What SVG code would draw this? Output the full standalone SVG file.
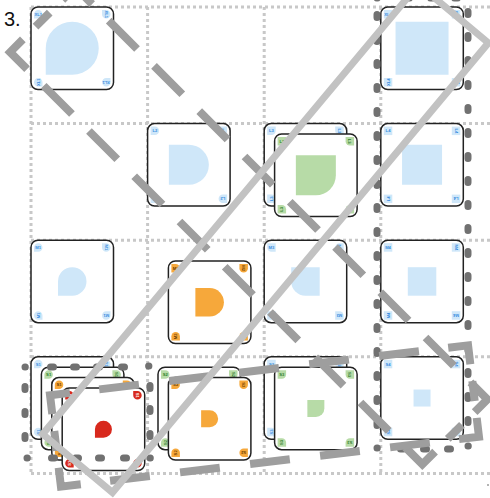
<svg xmlns="http://www.w3.org/2000/svg" width="490" height="498" viewBox="0 0 490 498">
<style>
.grid{fill:none;stroke:#c8c8c8;stroke-width:3;stroke-dasharray:3 3}
.card{fill:#fff;stroke:#222;stroke-width:1.5}
.b{fill:#cfe7f9}.g{fill:#b7dba7}.o{fill:#f6a83b}.r{fill:#d8291d}
.lbl{font-family:"Liberation Sans",Arial,sans-serif;font-size:4.2px;font-weight:bold;text-anchor:middle}
.tb{fill:#3a8de0}.tg{fill:#2e7d2a}.to{fill:#6a3b00}.tr{fill:#fff}
.dots{fill:none;stroke:#717171;stroke-width:7;stroke-linecap:round}
.dash{fill:none;stroke:#9e9e9e;stroke-width:8;stroke-linecap:butt;stroke-linejoin:miter}
.light{fill:none;stroke:#c2c2c2;stroke-width:7;stroke-linejoin:miter}
.title{font-family:"Liberation Sans",Arial,sans-serif;font-size:20px;fill:#111}
</style>
<defs>
<path id="tear" d="M0 .5A.5 .5 0 0 1 .5 0A.5 .5 0 0 1 1 .5A.5 .5 0 0 1 .5 1H0Z"/>
<path id="dee" d="M0 0H.5A.5 .5 0 0 1 .5 1H0Z"/>
<path id="qbr" d="M0 0H1V.5A.5 .5 0 0 1 .5 1H0Z"/>
<path id="qbl" d="M0 0H1V1H.5A.5 .5 0 0 1 0 .5Z"/>
<path id="sq" d="M0 0H1V1H0Z"/>
</defs>

<text class="title" x="4" y="26">3.</text>
<circle cx="488" cy="485" r="0.8" fill="#555"/>

<g id="grid">
<path class="grid" d="M31 7V473.4M147.6 7V473.4M264.2 7V473.4M380.8 7V473.4M31 7H490M31 123.6H490M31 240.2H490M31 356.8H490M31 473.4H490"/>
</g>

<g id="card-r0c0" transform="translate(31,7)">
<rect class="card" width="82.5" height="82.5" rx="7"/>
<use href="#tear" class="b" transform="translate(14.75,14.75) scale(53)"/>
<g transform="translate(3,3)"><use href="#tear" class="b" transform="scale(8.5)"/><text class="lbl tb" x="4.25" y="5.8">XL1</text></g>
<g transform="translate(79.5,3) rotate(90)"><use href="#tear" class="b" transform="scale(8.5)"/><text class="lbl tb" x="4.25" y="5.8">XL1</text></g>
<g transform="translate(79.5,79.5) rotate(180)"><use href="#tear" class="b" transform="scale(8.5)"/><text class="lbl tb" x="4.25" y="5.8">XL1</text></g>
<g transform="translate(3,79.5) rotate(270)"><use href="#tear" class="b" transform="scale(8.5)"/><text class="lbl tb" x="4.25" y="5.8">XL1</text></g>
</g>

<g id="card-r0c3" transform="translate(380.8,7)">
<rect class="card" width="82.5" height="82.5" rx="7"/>
<use href="#sq" class="b" transform="translate(14.75,14.75) scale(53)"/>
<g transform="translate(3,3)"><use href="#sq" class="b" transform="scale(8.5)"/><text class="lbl tb" x="4.25" y="5.8">XL4</text></g>
<g transform="translate(79.5,3) rotate(90)"><use href="#sq" class="b" transform="scale(8.5)"/><text class="lbl tb" x="4.25" y="5.8">XL4</text></g>
<g transform="translate(79.5,79.5) rotate(180)"><use href="#sq" class="b" transform="scale(8.5)"/><text class="lbl tb" x="4.25" y="5.8">XL4</text></g>
<g transform="translate(3,79.5) rotate(270)"><use href="#sq" class="b" transform="scale(8.5)"/><text class="lbl tb" x="4.25" y="5.8">XL4</text></g>
</g>

<g id="card-r1c1" transform="translate(147.6,123.6)">
<rect class="card" width="82.5" height="82.5" rx="7"/>
<use href="#dee" class="b" transform="translate(21.25,21.25) scale(40)"/>
<g transform="translate(3,3)"><use href="#dee" class="b" transform="scale(8.5)"/><text class="lbl tb" x="4.25" y="5.8">L2</text></g>
<g transform="translate(79.5,3) rotate(90)"><use href="#dee" class="b" transform="scale(8.5)"/><text class="lbl tb" x="4.25" y="5.8">L2</text></g>
<g transform="translate(79.5,79.5) rotate(180)"><use href="#dee" class="b" transform="scale(8.5)"/><text class="lbl tb" x="4.25" y="5.8">L2</text></g>
<g transform="translate(3,79.5) rotate(270)"><use href="#dee" class="b" transform="scale(8.5)"/><text class="lbl tb" x="4.25" y="5.8">L2</text></g>
</g>

<g id="card-r1c2-blue" transform="translate(264.2,123.6)">
<rect class="card" width="82.5" height="82.5" rx="7"/>
<use href="#qbr" class="b" transform="translate(21.25,21.25) scale(40)"/>
<g transform="translate(3,3)"><use href="#qbr" class="b" transform="scale(8.5)"/><text class="lbl tb" x="4.25" y="5.8">L3</text></g>
<g transform="translate(79.5,3) rotate(90)"><use href="#qbr" class="b" transform="scale(8.5)"/><text class="lbl tb" x="4.25" y="5.8">L3</text></g>
<g transform="translate(79.5,79.5) rotate(180)"><use href="#qbr" class="b" transform="scale(8.5)"/><text class="lbl tb" x="4.25" y="5.8">L3</text></g>
<g transform="translate(3,79.5) rotate(270)"><use href="#qbr" class="b" transform="scale(8.5)"/><text class="lbl tb" x="4.25" y="5.8">L3</text></g>
</g>
<g id="card-r1c2-green" transform="translate(274.6,134)">
<rect class="card" width="82.5" height="82.5" rx="7"/>
<use href="#qbr" class="g" transform="translate(21.25,21.25) scale(40)"/>
<g transform="translate(3,3)"><use href="#qbr" class="g" transform="scale(8.5)"/><text class="lbl tg" x="4.25" y="5.8">L3</text></g>
<g transform="translate(79.5,3) rotate(90)"><use href="#qbr" class="g" transform="scale(8.5)"/><text class="lbl tg" x="4.25" y="5.8">L3</text></g>
<g transform="translate(79.5,79.5) rotate(180)"><use href="#qbr" class="g" transform="scale(8.5)"/><text class="lbl tg" x="4.25" y="5.8">L3</text></g>
<g transform="translate(3,79.5) rotate(270)"><use href="#qbr" class="g" transform="scale(8.5)"/><text class="lbl tg" x="4.25" y="5.8">L3</text></g>
</g>

<g id="card-r1c3" transform="translate(380.8,123.6)">
<rect class="card" width="82.5" height="82.5" rx="7"/>
<use href="#sq" class="b" transform="translate(21.25,21.25) scale(40)"/>
<g transform="translate(3,3)"><use href="#sq" class="b" transform="scale(8.5)"/><text class="lbl tb" x="4.25" y="5.8">L4</text></g>
<g transform="translate(79.5,3) rotate(90)"><use href="#sq" class="b" transform="scale(8.5)"/><text class="lbl tb" x="4.25" y="5.8">L4</text></g>
<g transform="translate(79.5,79.5) rotate(180)"><use href="#sq" class="b" transform="scale(8.5)"/><text class="lbl tb" x="4.25" y="5.8">L4</text></g>
<g transform="translate(3,79.5) rotate(270)"><use href="#sq" class="b" transform="scale(8.5)"/><text class="lbl tb" x="4.25" y="5.8">L4</text></g>
</g>

<g id="card-r2c0" transform="translate(31,240.2)">
<rect class="card" width="82.5" height="82.5" rx="7"/>
<use href="#tear" class="b" transform="translate(27,27) scale(28.5)"/>
<g transform="translate(3,3)"><use href="#tear" class="b" transform="scale(8.5)"/><text class="lbl tb" x="4.25" y="5.8">M1</text></g>
<g transform="translate(79.5,3) rotate(90)"><use href="#tear" class="b" transform="scale(8.5)"/><text class="lbl tb" x="4.25" y="5.8">M1</text></g>
<g transform="translate(79.5,79.5) rotate(180)"><use href="#tear" class="b" transform="scale(8.5)"/><text class="lbl tb" x="4.25" y="5.8">M1</text></g>
<g transform="translate(3,79.5) rotate(270)"><use href="#tear" class="b" transform="scale(8.5)"/><text class="lbl tb" x="4.25" y="5.8">M1</text></g>
</g>

<g id="card-r2c1" transform="translate(168.4,261)">
<rect class="card" width="82.5" height="82.5" rx="7"/>
<use href="#dee" class="o" transform="translate(27,27) scale(28.5)"/>
<g transform="translate(3,3)"><use href="#dee" class="o" transform="scale(8.5)"/><text class="lbl to" x="4.25" y="5.8">M2</text></g>
<g transform="translate(79.5,3) rotate(90)"><use href="#dee" class="o" transform="scale(8.5)"/><text class="lbl to" x="4.25" y="5.8">M2</text></g>
<g transform="translate(79.5,79.5) rotate(180)"><use href="#dee" class="o" transform="scale(8.5)"/><text class="lbl to" x="4.25" y="5.8">M2</text></g>
<g transform="translate(3,79.5) rotate(270)"><use href="#dee" class="o" transform="scale(8.5)"/><text class="lbl to" x="4.25" y="5.8">M2</text></g>
</g>

<g id="card-r2c2" transform="translate(264.2,240.2)">
<rect class="card" width="82.5" height="82.5" rx="7"/>
<use href="#qbl" class="b" transform="translate(27,27) scale(28.5)"/>
<g transform="translate(3,3)"><use href="#qbl" class="b" transform="scale(8.5)"/><text class="lbl tb" x="4.25" y="5.8">M3</text></g>
<g transform="translate(79.5,3) rotate(90)"><use href="#qbl" class="b" transform="scale(8.5)"/><text class="lbl tb" x="4.25" y="5.8">M3</text></g>
<g transform="translate(79.5,79.5) rotate(180)"><use href="#qbl" class="b" transform="scale(8.5)"/><text class="lbl tb" x="4.25" y="5.8">M3</text></g>
<g transform="translate(3,79.5) rotate(270)"><use href="#qbl" class="b" transform="scale(8.5)"/><text class="lbl tb" x="4.25" y="5.8">M3</text></g>
</g>

<g id="card-r2c3" transform="translate(380.8,240.2)">
<rect class="card" width="82.5" height="82.5" rx="7"/>
<use href="#sq" class="b" transform="translate(27,27) scale(28.5)"/>
<g transform="translate(3,3)"><use href="#sq" class="b" transform="scale(8.5)"/><text class="lbl tb" x="4.25" y="5.8">M4</text></g>
<g transform="translate(79.5,3) rotate(90)"><use href="#sq" class="b" transform="scale(8.5)"/><text class="lbl tb" x="4.25" y="5.8">M4</text></g>
<g transform="translate(79.5,79.5) rotate(180)"><use href="#sq" class="b" transform="scale(8.5)"/><text class="lbl tb" x="4.25" y="5.8">M4</text></g>
<g transform="translate(3,79.5) rotate(270)"><use href="#sq" class="b" transform="scale(8.5)"/><text class="lbl tb" x="4.25" y="5.8">M4</text></g>
</g>

<g id="card-r3c0-blue" transform="translate(31,356.8)">
<rect class="card" width="82.5" height="82.5" rx="7"/>
<use href="#tear" class="b" transform="translate(32.75,32.75) scale(17)"/>
<g transform="translate(3,3)"><use href="#tear" class="b" transform="scale(8.5)"/><text class="lbl tb" x="4.25" y="5.8">S1</text></g>
<g transform="translate(79.5,3) rotate(90)"><use href="#tear" class="b" transform="scale(8.5)"/><text class="lbl tb" x="4.25" y="5.8">S1</text></g>
<g transform="translate(79.5,79.5) rotate(180)"><use href="#tear" class="b" transform="scale(8.5)"/><text class="lbl tb" x="4.25" y="5.8">S1</text></g>
<g transform="translate(3,79.5) rotate(270)"><use href="#tear" class="b" transform="scale(8.5)"/><text class="lbl tb" x="4.25" y="5.8">S1</text></g>
</g>
<g id="card-r3c0-green" transform="translate(41.4,367.2)">
<rect class="card" width="82.5" height="82.5" rx="7"/>
<use href="#tear" class="g" transform="translate(32.75,32.75) scale(17)"/>
<g transform="translate(3,3)"><use href="#tear" class="g" transform="scale(8.5)"/><text class="lbl tg" x="4.25" y="5.8">S1</text></g>
<g transform="translate(79.5,3) rotate(90)"><use href="#tear" class="g" transform="scale(8.5)"/><text class="lbl tg" x="4.25" y="5.8">S1</text></g>
<g transform="translate(79.5,79.5) rotate(180)"><use href="#tear" class="g" transform="scale(8.5)"/><text class="lbl tg" x="4.25" y="5.8">S1</text></g>
<g transform="translate(3,79.5) rotate(270)"><use href="#tear" class="g" transform="scale(8.5)"/><text class="lbl tg" x="4.25" y="5.8">S1</text></g>
</g>
<g id="card-r3c0-orange" transform="translate(51.8,377.6)">
<rect class="card" width="82.5" height="82.5" rx="7"/>
<use href="#tear" class="o" transform="translate(32.75,32.75) scale(17)"/>
<g transform="translate(3,3)"><use href="#tear" class="o" transform="scale(8.5)"/><text class="lbl to" x="4.25" y="5.8">S1</text></g>
<g transform="translate(79.5,3) rotate(90)"><use href="#tear" class="o" transform="scale(8.5)"/><text class="lbl to" x="4.25" y="5.8">S1</text></g>
<g transform="translate(79.5,79.5) rotate(180)"><use href="#tear" class="o" transform="scale(8.5)"/><text class="lbl to" x="4.25" y="5.8">S1</text></g>
<g transform="translate(3,79.5) rotate(270)"><use href="#tear" class="o" transform="scale(8.5)"/><text class="lbl to" x="4.25" y="5.8">S1</text></g>
</g>
<g id="card-r3c0-red" transform="translate(62.2,388)">
<rect class="card" width="82.5" height="82.5" rx="7"/>
<use href="#tear" class="r" transform="translate(32.75,32.75) scale(17)"/>
<g transform="translate(3,3)"><use href="#tear" class="r" transform="scale(8.5)"/><text class="lbl tr" x="4.25" y="5.8">S1</text></g>
<g transform="translate(79.5,3) rotate(90)"><use href="#tear" class="r" transform="scale(8.5)"/><text class="lbl tr" x="4.25" y="5.8">S1</text></g>
<g transform="translate(79.5,79.5) rotate(180)"><use href="#tear" class="r" transform="scale(8.5)"/><text class="lbl tr" x="4.25" y="5.8">S1</text></g>
<g transform="translate(3,79.5) rotate(270)"><use href="#tear" class="r" transform="scale(8.5)"/><text class="lbl tr" x="4.25" y="5.8">S1</text></g>
</g>

<g id="card-r3c1-green" transform="translate(158,367.2)">
<rect class="card" width="82.5" height="82.5" rx="7"/>
<use href="#dee" class="g" transform="translate(32.75,32.75) scale(17)"/>
<g transform="translate(3,3)"><use href="#dee" class="g" transform="scale(8.5)"/><text class="lbl tg" x="4.25" y="5.8">S2</text></g>
<g transform="translate(79.5,3) rotate(90)"><use href="#dee" class="g" transform="scale(8.5)"/><text class="lbl tg" x="4.25" y="5.8">S2</text></g>
<g transform="translate(79.5,79.5) rotate(180)"><use href="#dee" class="g" transform="scale(8.5)"/><text class="lbl tg" x="4.25" y="5.8">S2</text></g>
<g transform="translate(3,79.5) rotate(270)"><use href="#dee" class="g" transform="scale(8.5)"/><text class="lbl tg" x="4.25" y="5.8">S2</text></g>
</g>
<g id="card-r3c1-orange" transform="translate(168.4,377.6)">
<rect class="card" width="82.5" height="82.5" rx="7"/>
<use href="#dee" class="o" transform="translate(32.75,32.75) scale(17)"/>
<g transform="translate(3,3)"><use href="#dee" class="o" transform="scale(8.5)"/><text class="lbl to" x="4.25" y="5.8">S2</text></g>
<g transform="translate(79.5,3) rotate(90)"><use href="#dee" class="o" transform="scale(8.5)"/><text class="lbl to" x="4.25" y="5.8">S2</text></g>
<g transform="translate(79.5,79.5) rotate(180)"><use href="#dee" class="o" transform="scale(8.5)"/><text class="lbl to" x="4.25" y="5.8">S2</text></g>
<g transform="translate(3,79.5) rotate(270)"><use href="#dee" class="o" transform="scale(8.5)"/><text class="lbl to" x="4.25" y="5.8">S2</text></g>
</g>

<g id="card-r3c2-blue" transform="translate(264.2,356.8)">
<rect class="card" width="82.5" height="82.5" rx="7"/>
<use href="#qbr" class="b" transform="translate(32.75,32.75) scale(17)"/>
<g transform="translate(3,3)"><use href="#qbr" class="b" transform="scale(8.5)"/><text class="lbl tb" x="4.25" y="5.8">S3</text></g>
<g transform="translate(79.5,3) rotate(90)"><use href="#qbr" class="b" transform="scale(8.5)"/><text class="lbl tb" x="4.25" y="5.8">S3</text></g>
<g transform="translate(79.5,79.5) rotate(180)"><use href="#qbr" class="b" transform="scale(8.5)"/><text class="lbl tb" x="4.25" y="5.8">S3</text></g>
<g transform="translate(3,79.5) rotate(270)"><use href="#qbr" class="b" transform="scale(8.5)"/><text class="lbl tb" x="4.25" y="5.8">S3</text></g>
</g>
<g id="card-r3c2-green" transform="translate(274.6,367.2)">
<rect class="card" width="82.5" height="82.5" rx="7"/>
<use href="#qbr" class="g" transform="translate(32.75,32.75) scale(17)"/>
<g transform="translate(3,3)"><use href="#qbr" class="g" transform="scale(8.5)"/><text class="lbl tg" x="4.25" y="5.8">S3</text></g>
<g transform="translate(79.5,3) rotate(90)"><use href="#qbr" class="g" transform="scale(8.5)"/><text class="lbl tg" x="4.25" y="5.8">S3</text></g>
<g transform="translate(79.5,79.5) rotate(180)"><use href="#qbr" class="g" transform="scale(8.5)"/><text class="lbl tg" x="4.25" y="5.8">S3</text></g>
<g transform="translate(3,79.5) rotate(270)"><use href="#qbr" class="g" transform="scale(8.5)"/><text class="lbl tg" x="4.25" y="5.8">S3</text></g>
</g>

<g id="card-r3c3" transform="translate(380.8,356.8)">
<rect class="card" width="82.5" height="82.5" rx="7"/>
<use href="#sq" class="b" transform="translate(32.75,32.75) scale(17)"/>
<g transform="translate(3,3)"><use href="#sq" class="b" transform="scale(8.5)"/><text class="lbl tb" x="4.25" y="5.8">S4</text></g>
<g transform="translate(79.5,3) rotate(90)"><use href="#sq" class="b" transform="scale(8.5)"/><text class="lbl tb" x="4.25" y="5.8">S4</text></g>
<g transform="translate(79.5,79.5) rotate(180)"><use href="#sq" class="b" transform="scale(8.5)"/><text class="lbl tb" x="4.25" y="5.8">S4</text></g>
<g transform="translate(3,79.5) rotate(270)"><use href="#sq" class="b" transform="scale(8.5)"/><text class="lbl tb" x="4.25" y="5.8">S4</text></g>
</g>

<g id="connectors">
<path id="dots-bottom-left" class="dots" d="M25 367h.3M148.6 366h.3M150 458h.3M27 458h.3
M50.5 367h3M73.5 367h3M96.5 367h3M121.5 367h3
M51.5 458h3M75.5 458h3M98.5 458h3M123.5 458h3
M150 385.5v3M150 408.5v3M150 433.5v3
M25 386.5v3M25 411.5v3M25 435.5v3"/>
<path id="dots-right" class="dots" d="M377 448h.3M468 446h.3M377 -2h.3
M400.5 449h3M423.5 449h3M447.5 449h3M406.5 -2h3M430.5 -2h3M454.5 -2h3
M377 14.5v3M377 38.5v3M377 62.5v3M377 86.5v3M377 110.5v3M377 134.5v3M377 158.5v3M377 182.5v3M377 206.5v3M377 230.5v3M377 254.5v3M377 278.5v3M377 302.5v3M377 326.5v3M377 350.5v3M377 374.5v3M377 398.5v3M377 422.5v3
M468 11.5v3M468 35.5v3M468 59.5v3M468 83.5v3M468 107.5v3M468 131.5v3M468 155.5v3M468 179.5v3M468 203.5v3M468 227.5v3M468 251.5v3M468 275.5v3M468 299.5v3M468 323.5v3M468 347.5v3M468 371.5v3M468 395.5v3M468 419.5v3"/>

<path id="dashed-diagonal" class="dash" transform="translate(248.75,225.75) rotate(45)" d="M-267.5 46H-291.5V28M267.5 46H291.5V28M291.5 -28V-46H267.5M-267.5 -46H-291.5V-28
M-291.5 -10V10M291.5 -10V10
M12 46H52M76 46H116M140 46H180M204 46H244M-12 46H-52M-76 46H-116M-140 46H-180M-204 46H-244
M12 -46H52M76 -46H116M140 -46H180M204 -46H244M-12 -46H-52M-76 -46H-116M-140 -46H-180M-204 -46H-244"/>

<path id="dashed-bottom" class="dash" transform="translate(264.5,416) rotate(-6.8)" d="M-190.5 -46H-210.5V-27M190.5 -46H210.5V-27M210.5 27V46H190.5M-190.5 46H-210.5V27
M-210.5 -10V10M210.5 -10V10
M-20 -46H20M50.5 -46H90.5M121 -46H161M-50.5 -46H-90.5M-121 -46H-161
M-20 46H20M50.5 46H90.5M121 46H161M-50.5 46H-90.5M-121 46H-161"/>

<rect id="solid-diagonal" class="light" transform="translate(265.5,238.5) rotate(-50.1)" x="-293" y="-45.5" width="586" height="91"/>
</g>
</svg>
